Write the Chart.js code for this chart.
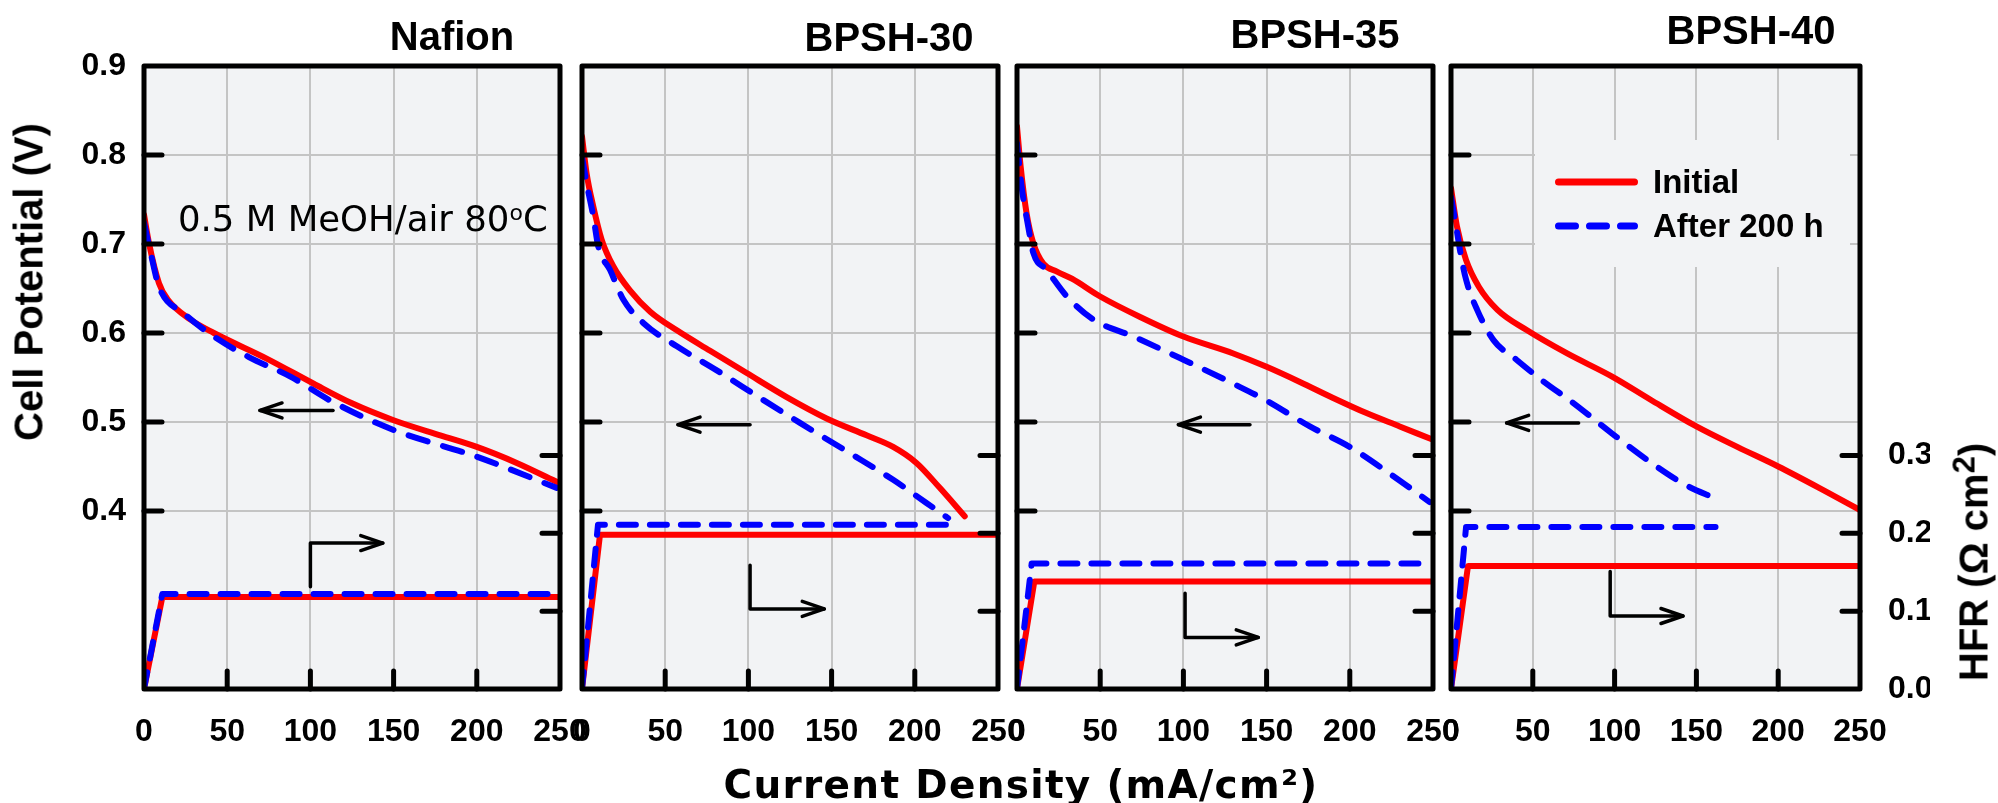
<!DOCTYPE html>
<html>
<head>
<meta charset="utf-8">
<script src="https://cdn.jsdelivr.net/npm/chart.js@4.4.0/dist/chart.umd.min.js"></script>
<style>
  body { margin: 0; background: #fff; width: 1998px; height: 803px; overflow: hidden; position: relative; }
  canvas { position: absolute; left: 0; top: 0; }
  .txt { position: absolute; white-space: nowrap; line-height: 1; color: #000; }
  .title { font: bold 40px "Liberation Sans"; transform: translateX(-50%); }
</style>
</head>
<body>
<canvas id="p0" width="1998" height="803"></canvas>
<canvas id="p1" width="1998" height="803"></canvas>
<canvas id="p2" width="1998" height="803"></canvas>
<canvas id="p3" width="1998" height="803"></canvas>

<div class="txt" style="left:29px;top:282px;font:bold 40px 'Liberation Sans';transform:translate(-50%,-50%) rotate(-90deg);">Cell Potential (V)</div>
<div class="txt" style="left:1974px;top:562px;font:bold 40px 'Liberation Sans';transform:translate(-50%,-50%) rotate(-90deg);">HFR (&Omega; cm<span style="font-size:31px;position:relative;top:-13px;">2</span>)</div>
<div class="txt" style="left:1021px;top:762px;font:bold 39px 'DejaVu Sans';letter-spacing:1.3px;transform:translateX(-50%);">Current Density (mA/cm²)</div>
<div class="txt" style="left:178px;top:198px;font:35.5px 'DejaVu Sans';">0.5 M MeOH/air 80<span style="font-size:22px;position:relative;top:-11px;">o</span>C</div>

<script>
// current density (mA/cm2) / cell potential (V) / HFR (ohm cm2)
const nafionInitI = [0, 3, 9, 14.5, 28, 42, 74, 102, 125, 150, 178, 200, 224, 250];
const nafionInitV = [0.733, 0.701, 0.656, 0.637, 0.615, 0.600, 0.571, 0.543, 0.521, 0.502, 0.485, 0.472, 0.454, 0.431];
const nafionAgedI = [0, 4, 9, 24, 42, 63, 88, 113, 150, 200, 248];
const nafionAgedV = [0.724, 0.690, 0.652, 0.622, 0.596, 0.573, 0.551, 0.523, 0.491, 0.461, 0.426];
const nafionInitHfrI = [0, 11, 250];
const nafionInitHfr = [0, 0.118, 0.118];
const nafionAgedHfrI = [0, 11, 247];
const nafionAgedHfr = [0, 0.122, 0.122];

const b30InitI = [0, 2.8, 6.8, 11.8, 18.8, 28.8, 41, 57, 77, 99, 123, 147, 171, 187, 201, 215, 230];
const b30InitV = [0.821, 0.779, 0.742, 0.705, 0.675, 0.648, 0.624, 0.603, 0.580, 0.555, 0.528, 0.504, 0.485, 0.472, 0.454, 0.426, 0.394];
const b30AgedI = [0, 2.8, 6.8, 9.8, 16.8, 25, 37, 57, 81, 107, 131, 161, 187, 207, 220];
const b30AgedV = [0.798, 0.768, 0.731, 0.697, 0.671, 0.637, 0.611, 0.585, 0.558, 0.527, 0.499, 0.465, 0.435, 0.409, 0.392];
const b30InitHfrI = [0, 10.8, 250];
const b30InitHfr = [0, 0.198, 0.198];
const b30AgedHfrI = [0, 9.6, 220];
const b30AgedHfr = [0, 0.211, 0.211];

const b35InitI = [0, 2.2, 5.8, 9.8, 15.8, 24, 33, 50, 74, 100, 130, 150, 170, 190, 210, 230, 250];
const b35InitV = [0.832, 0.787, 0.734, 0.701, 0.678, 0.669, 0.661, 0.641, 0.618, 0.596, 0.577, 0.562, 0.545, 0.527, 0.510, 0.495, 0.480];
const b35AgedI = [0, 2.8, 6.8, 9.8, 17.8, 30, 46, 70, 100, 130, 150, 176, 200, 224, 248];
const b35AgedV = [0.813, 0.764, 0.719, 0.690, 0.671, 0.641, 0.615, 0.596, 0.570, 0.543, 0.524, 0.495, 0.472, 0.442, 0.410];
const b35InitHfrI = [0, 10.4, 250];
const b35InitHfr = [0, 0.138, 0.138];
const b35AgedHfrI = [0, 8.8, 247];
const b35AgedHfr = [0, 0.161, 0.161];

const b40InitI = [0, 3.6, 9.2, 17, 28.4, 46.5, 71, 98.5, 122, 150, 175, 200, 225, 250];
const b40InitV = [0.763, 0.720, 0.682, 0.652, 0.626, 0.603, 0.577, 0.551, 0.525, 0.495, 0.472, 0.450, 0.426, 0.401];
const b40AgedI = [0, 2.5, 5.8, 9.2, 16, 26, 40, 55.5, 75, 98.5, 125.6, 143.6, 161.7];
const b40AgedV = [0.753, 0.727, 0.690, 0.660, 0.626, 0.592, 0.570, 0.547, 0.521, 0.487, 0.450, 0.429, 0.414];
const b40InitHfrI = [0, 10.4, 250];
const b40InitHfr = [0, 0.158, 0.158];
const b40AgedHfrI = [0, 9.2, 161.7];
const b40AgedHfr = [0, 0.208, 0.208];

const panelTitles = ['Nafion', 'BPSH-30', 'BPSH-35', 'BPSH-40'];
const seriesLabels = ['Initial', 'After 200 h'];
const innerTicksV = [0.4, 0.5, 0.6, 0.7, 0.8];
const innerTicksHfr = [0.1, 0.2, 0.3];
const innerTicksI = [50, 100, 150, 200];

// layout / styles
const W = 1998, H = 803, TOP = 66, BOTTOM = 689, AXIS_W = 70, AXIS_H = 80;
const RED = '#ff0000', BLUE = '#0000ff', PLOT_BG = '#f2f3f5', GRID = '#c4c4c4';
const TICK_FONT = { family: 'Liberation Sans', size: 32, weight: 'bold' };
const CLEAR = 'rgba(0,0,0,0)';

const panels = [
  { left: 144, right: 560, titleX: 452, titleTop: 14,
    init: [nafionInitI, nafionInitV], aged: [nafionAgedI, nafionAgedV],
    initHfr: [nafionInitHfrI, nafionInitHfr], agedHfr: [nafionAgedHfrI, nafionAgedHfr],
    leftLabels: true, rightLabels: false,
    arrowV: [[113.6, 0.513], [69.7, 0.513]],
    arrowHfr: [[100, 0.315], [100, 0.364], [143.5, 0.364]] },
  { left: 582, right: 998, titleX: 889, titleTop: 15,
    init: [b30InitI, b30InitV], aged: [b30AgedI, b30AgedV],
    initHfr: [b30InitHfrI, b30InitHfr], agedHfr: [b30AgedHfrI, b30AgedHfr],
    leftLabels: false, rightLabels: false,
    arrowV: [[101, 0.497], [57.7, 0.497]],
    arrowHfr: [[101, 0.339], [101, 0.290], [145.6, 0.290]] },
  { left: 1017, right: 1433, titleX: 1315, titleTop: 12,
    init: [b35InitI, b35InitV], aged: [b35AgedI, b35AgedV],
    initHfr: [b35InitHfrI, b35InitHfr], agedHfr: [b35AgedHfrI, b35AgedHfr],
    leftLabels: false, rightLabels: false,
    arrowV: [[140, 0.497], [97, 0.497]],
    arrowHfr: [[101, 0.3075], [101, 0.258], [145, 0.258]] },
  { left: 1451, right: 1860, titleX: 1751, titleTop: 8,
    init: [b40InitI, b40InitV], aged: [b40AgedI, b40AgedV],
    initHfr: [b40InitHfrI, b40InitHfr], agedHfr: [b40AgedHfrI, b40AgedHfr],
    leftLabels: false, rightLabels: true,
    arrowV: [[78, 0.499], [34, 0.499]],
    arrowHfr: [[97.3, 0.332], [97.3, 0.282], [141.8, 0.282]],
    legend: { x: 84, y: 74, w: 315, h: 127 } }
];

function pts(xs, ys) {
  return xs.map((x, i) => ({ x: x, y: ys[i] }));
}

function drawArrow(ctx, p) {
  ctx.beginPath();
  ctx.moveTo(p[0][0], p[0][1]);
  for (let i = 1; i < p.length; i++) ctx.lineTo(p[i][0], p[i][1]);
  ctx.stroke();
  const [x1, y1] = p[p.length - 2], [x2, y2] = p[p.length - 1];
  const a = Math.atan2(y2 - y1, x2 - x1), L = 22, w = 7.5;
  const bx = x2 - L * Math.cos(a), by = y2 - L * Math.sin(a);
  ctx.beginPath();
  ctx.moveTo(bx - w * Math.sin(a), by + w * Math.cos(a));
  ctx.lineTo(x2, y2);
  ctx.lineTo(bx + w * Math.sin(a), by - w * Math.cos(a));
  ctx.stroke();
}

function decoPlugin(p) {
  return {
    id: 'deco',
    beforeDraw(chart) {
      const a = chart.chartArea, ctx = chart.ctx;
      ctx.save();
      ctx.fillStyle = PLOT_BG;
      ctx.fillRect(a.left, a.top, a.right - a.left, a.bottom - a.top);
      ctx.restore();
    },
    beforeDatasetsDraw(chart) {
      if (!p.legend) return;
      const a = chart.chartArea, ctx = chart.ctx;
      ctx.save();
      ctx.fillStyle = PLOT_BG;
      ctx.fillRect(a.left + p.legend.x, a.top + p.legend.y, p.legend.w, p.legend.h);
      ctx.restore();
    },
    afterDatasetsDraw(chart) {
      const a = chart.chartArea, ctx = chart.ctx;
      const sx = chart.scales.x, sy = chart.scales.y, sh = chart.scales.y1;
      ctx.save();
      ctx.strokeStyle = '#000';
      ctx.lineCap = 'round';
      // inward ticks
      ctx.lineWidth = 5;
      ctx.beginPath();
      innerTicksV.forEach(v => { const y = sy.getPixelForValue(v); ctx.moveTo(a.left, y); ctx.lineTo(a.left + 18, y); });
      innerTicksHfr.forEach(v => { const y = sh.getPixelForValue(v); ctx.moveTo(a.right, y); ctx.lineTo(a.right - 18, y); });
      innerTicksI.forEach(v => { const x = sx.getPixelForValue(v); ctx.moveTo(x, a.bottom); ctx.lineTo(x, a.bottom - 18); });
      ctx.stroke();
      // frame
      ctx.lineJoin = 'round';
      ctx.strokeRect(a.left, a.top, a.right - a.left, a.bottom - a.top);
      // axis arrows
      ctx.lineWidth = 3.5;
      drawArrow(ctx, p.arrowV.map(q => [sx.getPixelForValue(q[0]), sy.getPixelForValue(q[1])]));
      drawArrow(ctx, p.arrowHfr.map(q => [sx.getPixelForValue(q[0]), sy.getPixelForValue(q[1])]));
      // legend
      if (p.legend) {
        const lx = a.left + p.legend.x + 20, ly = a.top + p.legend.y;
        ctx.lineWidth = 7;
        ctx.strokeStyle = RED;
        ctx.beginPath(); ctx.moveTo(lx + 3.5, ly + 42); ctx.lineTo(lx + 79.5, ly + 42); ctx.stroke();
        ctx.strokeStyle = BLUE;
        ctx.setLineDash([17, 14]);
        ctx.beginPath(); ctx.moveTo(lx + 3.5, ly + 86); ctx.lineTo(lx + 79.5, ly + 86); ctx.stroke();
        ctx.setLineDash([]);
        ctx.fillStyle = '#000';
        ctx.font = 'bold 33px "Liberation Sans"';
        ctx.textBaseline = 'alphabetic';
        ctx.fillText(chart.data.datasets[0].label, lx + 98, ly + 53);
        ctx.fillText(chart.data.datasets[1].label, lx + 98, ly + 97);
      }
      ctx.restore();
    }
  };
}

panels.forEach((p, k) => {
  const t = document.createElement('div');
  t.className = 'txt title';
  t.style.left = p.titleX + 'px';
  t.style.top = p.titleTop + 'px';
  t.textContent = panelTitles[k];
  document.body.appendChild(t);

  const line = { borderWidth: 6, borderCapStyle: 'round', borderJoinStyle: 'round', pointRadius: 0, fill: false };
  new Chart(document.getElementById('p' + k), {
    type: 'line',
    data: {
      datasets: [
        Object.assign({ label: seriesLabels[0], data: pts(p.init[0], p.init[1]), yAxisID: 'y', borderColor: RED, cubicInterpolationMode: 'monotone', order: 2 }, line),
        Object.assign({ label: seriesLabels[1], data: pts(p.aged[0], p.aged[1]), yAxisID: 'y', borderColor: BLUE, borderDash: [20, 16], cubicInterpolationMode: 'monotone', order: 1 }, line),
        Object.assign({ label: seriesLabels[0], data: pts(p.initHfr[0], p.initHfr[1]), yAxisID: 'y1', borderColor: RED, tension: 0, order: 2 }, line),
        Object.assign({ label: seriesLabels[1], data: pts(p.agedHfr[0], p.agedHfr[1]), yAxisID: 'y1', borderColor: BLUE, borderDash: [17, 14], tension: 0, order: 1 }, line)
      ]
    },
    options: {
      responsive: false,
      animation: false,
      devicePixelRatio: 1,
      layout: { padding: { left: p.left - AXIS_W, right: W - p.right - AXIS_W, top: TOP, bottom: H - BOTTOM - AXIS_H } },
      plugins: { legend: { display: false }, tooltip: { enabled: false } },
      scales: {
        x: {
          type: 'linear', min: 0, max: 250,
          afterFit: s => { s.height = AXIS_H; },
          ticks: { stepSize: 50, autoSkip: false, maxRotation: 0, padding: 24, color: '#000', font: TICK_FONT },
          grid: { drawTicks: false, lineWidth: 2, color: c => (c.tick && c.tick.value > 1 && c.tick.value < 249) ? GRID : CLEAR },
          border: { display: false }
        },
        y: {
          position: 'left', min: 0.2, max: 0.9,
          afterFit: s => { s.width = AXIS_W; },
          ticks: { stepSize: 0.1, display: p.leftLabels, padding: 18, color: '#000', font: TICK_FONT,
                   callback: v => v > 0.35 ? v.toFixed(1) : '' },
          grid: { drawTicks: false, lineWidth: 2, color: c => (c.tick && c.tick.value > 0.35 && c.tick.value < 0.85) ? GRID : CLEAR },
          border: { display: false }
        },
        y1: {
          position: 'right', min: 0, max: 0.8,
          afterFit: s => { s.width = AXIS_W; },
          ticks: { stepSize: 0.1, display: p.rightLabels, padding: 20, color: '#000', font: TICK_FONT,
                   callback: v => v < 0.35 ? v.toFixed(1) : '' },
          grid: { display: false },
          border: { display: false }
        }
      }
    },
    plugins: [decoPlugin(p)]
  });
});
</script>
</body>
</html>
